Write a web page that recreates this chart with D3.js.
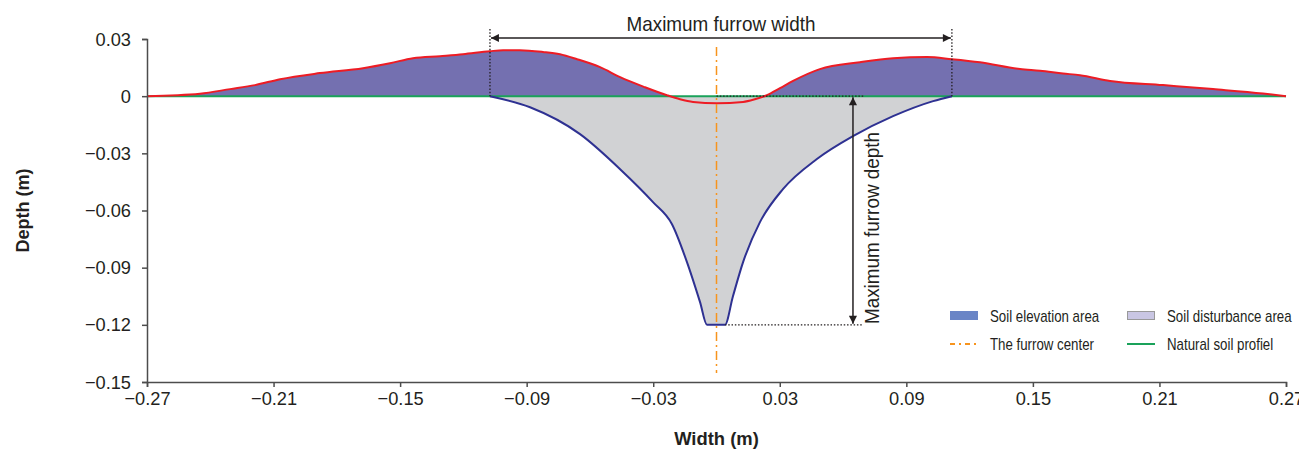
<!DOCTYPE html>
<html>

<head>
    <meta charset='utf-8'>
</head>
<style>
    body {
        margin: 0;
        background: #fff;
    }

    text {
        font-family: "Liberation Sans", Arial, sans-serif;
        fill: #231f20;
    }

    .axis path,
    .axis line {
        stroke: #4d4d4d;
        stroke-width: 1.5px;
    }

    .axis text {
        font-size: 19px;
    }

    .dotted {
        stroke: #231f20;
        stroke-width: 1.3px;
        stroke-dasharray: 1.5, 1.8;
        fill: none;
    }
</style>

<body>
    <div id='chart'></div>
    <script src="https://d3js.org/d3.v7.min.js"></script>
    <script>
        // surface after tillage (red line)
        var surfaceX = [-0.27, -0.2449, -0.2306, -0.2188, -0.2069, -0.188, -0.1676, -0.1548, -0.1439, -0.1311, -0.1202,
            -0.1074, -0.1012, -0.0932, -0.0823, -0.0742, -0.0661, -0.0552, -0.0457, -0.0339, -0.0235, -0.0173,
            -0.0111, 0.0002, 0.0126, 0.0182, 0.0239, 0.0301, 0.0363, 0.049, 0.068, 0.0837, 0.0998, 0.1116,
            0.1249, 0.1439, 0.1534, 0.1643, 0.1723, 0.1866, 0.2117, 0.2354, 0.2591, 0.27];
        var surfaceY = [0, 0.0013, 0.0037, 0.0058, 0.0089, 0.0121, 0.0147, 0.0173, 0.0199, 0.021, 0.022,
            0.0236, 0.0241, 0.0241, 0.0232, 0.022, 0.0194, 0.0152, 0.01, 0.0047, 0.0005, -0.0016,
            -0.003, -0.0037, -0.003, -0.0016, 0.0005, 0.0042, 0.008, 0.0142, 0.0178, 0.0199, 0.0205, 0.0194,
            0.0178, 0.0142, 0.0133, 0.0119, 0.011, 0.008, 0.0058, 0.0037, 0.0014, 0];

        // furrow bottom (blue line)
        var furrowX = [-0.1074, -0.0884, -0.0647, -0.0457, -0.0301, -0.0211, -0.014, -0.0078, -0.0045, 0.004,
            0.0078, 0.0126, 0.0206, 0.0315, 0.0476, 0.0647, 0.0837, 0.1027, 0.1116];
        var furrowY = [0, -0.0058, -0.0199, -0.0383, -0.0556, -0.0672, -0.0871, -0.1081, -0.12, -0.12,
            -0.105, -0.0871, -0.0661, -0.0488, -0.033, -0.021, -0.0105, -0.0026, 0];

        var xTicks = [-0.27, -0.21, -0.15, -0.09, -0.03, 0.03, 0.09, 0.15, 0.21, 0.27];
        var yTicks = [0.03, 0, -0.03, -0.06, -0.09, -0.12, -0.15];

        var furrowCenter = 0;
        var widthStart = -0.1074;
        var widthEnd = 0.1116;
        var maxDepth = -0.12;
        var depthArrowX = 0.0647;

        var legendItems = ["Soil elevation area", "Soil disturbance area", "The furrow center", "Natural soil profiel"];

        var width = 1299;
        var height = 450;
        var tickK = 0.96; // slight squeeze, the original uses a condensed face

        var svg = d3.select('#chart')
            .append("svg")
            .attr("width", width)
            .attr("height", height);

        var x = d3.scaleLinear().domain([-0.27, 0.27]).range([147, 1286]);
        var y = d3.scaleLinear().domain([-0.15, 0.03]).range([382, 39]);

        var surface = surfaceX.map(function(d, i) {
            return [d, surfaceY[i]];
        });
        var furrow = furrowX.map(function(d, i) {
            return [d, furrowY[i]];
        });

        // text at (px, py), squeezed along its own direction
        function label(px, py, str, size, opts) {
            opts = opts || {};
            var g = svg.append("g")
                .attr("transform", "translate(" + px + "," + py + ")" + (opts.rotate ? " rotate(-90)" : ""));
            return g.append("text")
                .attr("transform", "scale(" + (opts.k || 1) + ",1)")
                .attr("text-anchor", opts.anchor || "start")
                .style("font-size", size + "px")
                .style("font-weight", opts.bold ? "bold" : null)
                .text(str);
        }

        var defs = svg.append("defs");
        defs.append("marker")
            .attr("id", "arrow")
            .attr("viewBox", "0 0 10 10")
            .attr("refX", 10)
            .attr("refY", 5)
            .attr("markerWidth", 11)
            .attr("markerHeight", 8)
            .attr("markerUnits", "userSpaceOnUse")
            .attr("orient", "auto-start-reverse")
            .append("path")
            .attr("d", "M0,0L10,5L0,10z")
            .attr("fill", "#231f20");

        var curve = d3.curveMonotoneX;

        // soil elevation area
        svg.append("path")
            .datum(surface)
            .attr("fill", "#7470b0")
            .attr("d", d3.area()
                .curve(curve)
                .x(function(d) { return x(d[0]); })
                .y0(y(0))
                .y1(function(d) { return y(d[1]); }));

        // soil disturbance area
        svg.append("path")
            .datum(furrow)
            .attr("fill", "#d1d2d4")
            .attr("d", d3.area()
                .curve(curve)
                .x(function(d) { return x(d[0]); })
                .y0(y(0))
                .y1(function(d) { return y(d[1]); }));

        // natural soil profile
        svg.append("line")
            .attr("x1", x(-0.27))
            .attr("x2", x(0.27))
            .attr("y1", y(0))
            .attr("y2", y(0))
            .attr("stroke", "#1aa25a")
            .attr("stroke-width", 2);

        svg.append("path")
            .datum(furrow)
            .attr("fill", "none")
            .attr("stroke", "#2e3192")
            .attr("stroke-width", 2)
            .attr("d", d3.line()
                .curve(curve)
                .x(function(d) { return x(d[0]); })
                .y(function(d) { return y(d[1]); }));

        svg.append("path")
            .datum(surface)
            .attr("fill", "none")
            .attr("stroke", "#ed1c24")
            .attr("stroke-width", 2)
            .attr("d", d3.line()
                .curve(curve)
                .x(function(d) { return x(d[0]); })
                .y(function(d) { return y(d[1]); }));

        // annotations
        svg.append("line").attr("class", "dotted")
            .attr("x1", x(widthStart)).attr("x2", x(widthStart))
            .attr("y1", 29).attr("y2", y(0));
        svg.append("line").attr("class", "dotted")
            .attr("x1", x(widthEnd)).attr("x2", x(widthEnd))
            .attr("y1", 29).attr("y2", y(0));
        svg.append("line")
            .attr("x1", x(widthStart) + 1).attr("x2", x(widthEnd) - 1)
            .attr("y1", 38).attr("y2", 38)
            .attr("stroke", "#231f20")
            .attr("stroke-width", 1.5)
            .attr("marker-start", "url(#arrow)")
            .attr("marker-end", "url(#arrow)");
        label((x(widthStart) + x(widthEnd)) / 2, 31, "Maximum furrow width", 21, { anchor: "middle", k: 0.9 });

        svg.append("line").attr("class", "dotted")
            .attr("x1", x(furrowCenter)).attr("x2", x(depthArrowX) + 12)
            .attr("y1", y(0)).attr("y2", y(0));
        svg.append("line").attr("class", "dotted")
            .attr("x1", x(0.004)).attr("x2", x(depthArrowX) + 10)
            .attr("y1", y(maxDepth)).attr("y2", y(maxDepth));
        svg.append("line")
            .attr("x1", x(depthArrowX)).attr("x2", x(depthArrowX))
            .attr("y1", y(0) + 1).attr("y2", y(maxDepth) - 1)
            .attr("stroke", "#231f20")
            .attr("stroke-width", 1.5)
            .attr("marker-start", "url(#arrow)")
            .attr("marker-end", "url(#arrow)");
        label(x(depthArrowX) + 26, 228, "Maximum furrow depth", 21, { anchor: "middle", rotate: true, k: 0.9 });

        // furrow center
        svg.append("line")
            .attr("x1", x(furrowCenter)).attr("x2", x(furrowCenter))
            .attr("y1", 47).attr("y2", 373)
            .attr("stroke", "#f7941d")
            .attr("stroke-width", 1.5)
            .attr("stroke-dasharray", "9,4,2,4");

        // axes
        var gx = svg.append("g")
            .attr("class", "axis")
            .attr("transform", "translate(0," + y(-0.15) + ")")
            .call(d3.axisBottom(x).tickValues(xTicks).tickSizeOuter(0).tickSize(5).tickPadding(5)
                .tickFormat(d3.format(".2f")));
        gx.selectAll(".tick text").attr("transform", "scale(" + tickK + ",1)");

        var gy = svg.append("g")
            .attr("class", "axis")
            .attr("transform", "translate(" + x(-0.27) + ",0)")
            .call(d3.axisLeft(y).tickValues(yTicks).tickSizeOuter(0).tickSize(5)
                .tickFormat(function(d) {
                    return d === 0 ? "0" : d3.format(".2f")(d);
                }));
        gy.selectAll(".tick text")
            .attr("x", -16 / tickK)
            .attr("transform", "scale(" + tickK + ",1)");

        label((x(-0.27) + x(0.27)) / 2, 445, "Width (m)", 19, { anchor: "middle", bold: true, k: 0.97 });
        label(29, (y(0.03) + y(-0.15)) / 2, "Depth (m)", 19, { anchor: "middle", bold: true, rotate: true, k: 0.95 });

        // legend
        var lx = 950, ly = 316;
        var cols = [0, 177];
        var rows = [0, 28];

        svg.append("rect")
            .attr("x", lx + cols[0]).attr("y", ly + rows[0] - 5)
            .attr("width", 28).attr("height", 9)
            .attr("fill", "#6a85c6");
        svg.append("rect")
            .attr("x", lx + cols[1] + 0.5).attr("y", ly + rows[0] - 4.5)
            .attr("width", 27).attr("height", 8)
            .attr("fill", "#c9c6e3")
            .attr("stroke", "#999")
            .attr("stroke-width", 1);
        svg.append("line")
            .attr("x1", lx + cols[0]).attr("x2", lx + cols[0] + 28)
            .attr("y1", ly + rows[1]).attr("y2", ly + rows[1])
            .attr("stroke", "#f7941d")
            .attr("stroke-width", 2)
            .attr("stroke-dasharray", "5,4,2,4");
        svg.append("line")
            .attr("x1", lx + cols[1]).attr("x2", lx + cols[1] + 28)
            .attr("y1", ly + rows[1]).attr("y2", ly + rows[1])
            .attr("stroke", "#1aa25a")
            .attr("stroke-width", 2);

        legendItems.forEach(function(d, i) {
            label(lx + cols[i % 2] + 40, ly + rows[Math.floor(i / 2)] + 5.5, d, 16, { k: 0.83 });
        });
    </script>
</body>

</html>
